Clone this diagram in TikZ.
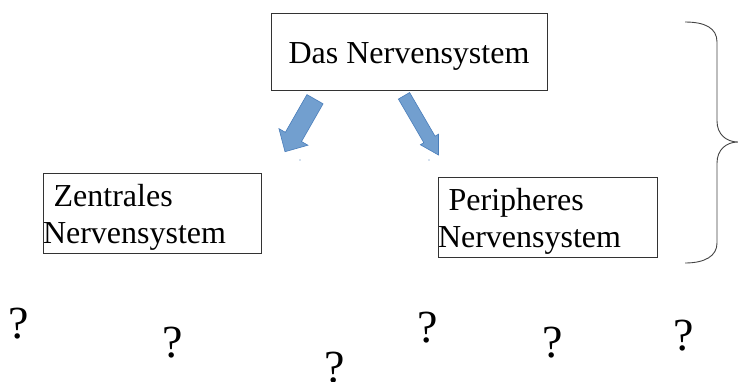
\documentclass[tikz,border=0pt]{standalone}
\usepackage{fontspec}
\setmainfont{Liberation Serif}
\definecolor{arrfill}{HTML}{729FCF}
\definecolor{arrline}{HTML}{4A7EBB}
\definecolor{braceline}{HTML}{444444}
\newcommand{\lowr}[2]{\raisebox{-#1}[\height][\depth]{#2}}
\begin{document}
\begin{tikzpicture}[x=1pt,y=-1pt,
  box/.style={draw=black!80, line width=0.8pt, inner sep=0pt, outer sep=0pt,
    font=\fontsize{32}{37}\selectfont, align=left},
  qmark/.style={anchor=base, inner sep=0pt, font=\fontsize{46}{50}\selectfont},
  blockarrow/.style={fill=arrfill, draw=arrline, line width=0.6pt, line join=miter}]
\useasboundingbox (0,0) rectangle (738,381);
\fill[white] (0,0) rectangle (738,381);
% boxes
\node[box, minimum width=276pt, minimum height=77pt, align=center] (top) at (409,51.5)
  {\lowr{5pt}{Das Nervensystem}};
\node[box, text width=218pt, minimum height=80pt] (zns) at (152,213)
  {\lowr{4pt}{\ Zentrales}\\\lowr{4pt}{Nervensystem}};
\node[box, text width=219pt, minimum height=80pt] (pns) at (547.5,217)
  {\lowr{4pt}{\ Peripheres}\\\lowr{4pt}{Nervensystem}};
% block arrows
\filldraw[blockarrow] (306.93,94.59) -- (323.07,103.81) -- (301.50,141.55) -- (307.93,145.22)
  -- (285,151.7) -- (278.93,128.66) -- (285.36,132.33) -- cycle;
\filldraw[blockarrow] (409.62,92.53) -- (435.06,136.18) -- (438.51,134.16) -- (438.5,155)
  -- (420.37,144.74) -- (423.82,142.72) -- (398.38,99.07) -- cycle;
\fill[arrline] (300,160) circle (0.7);
\fill[arrline] (429,160) circle (0.7);
% brace
\draw[braceline, line width=0.9pt]
  (685,22) .. controls (705,22) and (717,28) .. (717,42) -- (717,121)
  .. controls (717,134) and (726,142) .. (738,142)
  .. controls (726,142) and (717,150) .. (717,163) -- (717,243)
  .. controls (717,256) and (705,263) .. (685,263);
% question marks
\node[qmark] (q1) at (19,338) {?};
\node[qmark] (q2) at (173,357) {?};
\node[qmark] (q3) at (335,382) {?};
\node[qmark] (q4) at (428,342) {?};
\node[qmark] (q5) at (553,357) {?};
\node[qmark] (q6) at (684,350) {?};
\end{tikzpicture}
\end{document}
